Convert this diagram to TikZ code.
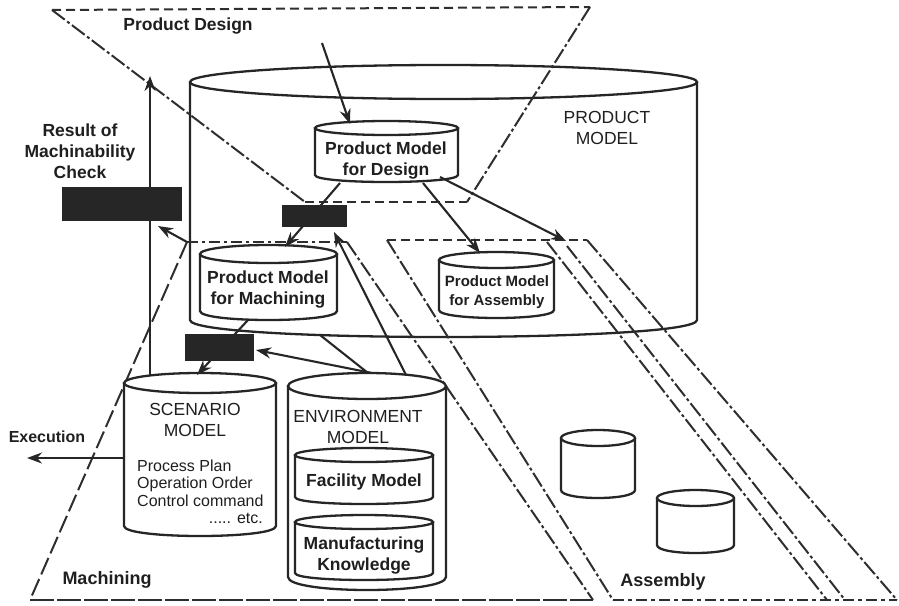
\documentclass[tikz,border=0pt]{standalone}
\usepackage{fontspec}
\setmainfont{Liberation Sans}
\usetikzlibrary{arrows.meta}
\newcommand{\cylshape}[6][]{%
  \filldraw[cyl,#1] (#2-#5,#3) -- (#2-#5,#4) .. controls (#2-#5,#4+1.333*#6) and (#2+#5,#4+1.333*#6) .. (#2+#5,#4) -- (#2+#5,#3);
  \filldraw[cyl,#1] (#2,#3) ellipse [x radius=#5, y radius=#6];
}
\begin{document}
\begin{tikzpicture}[x=1pt,y=-1pt,
  cyl/.style={line width=2.3pt, fill=white, draw=black!85},
  plane/.style={line width=2pt, draw=black!82},
  slant/.style={plane, dash pattern=on 16pt off 3pt on 3pt off 3pt},
  hdash/.style={plane, dash pattern=on 9pt off 5pt},
  hdashdot/.style={plane, dash pattern=on 11pt off 4pt on 3pt off 4pt},
  longdash/.style={plane, dash pattern=on 18pt off 5pt},
  conn/.style={line width=2.1pt, draw=black!85, -{Stealth[length=15pt,width=11pt]}},
  plain/.style={line width=2.1pt, draw=black!85},
  blackbox/.style={fill=black!85, inner sep=0pt},
  bl/.style={font=\fontsize{17.5}{21}\selectfont\bfseries, align=center, inner sep=0pt, text=black!88},
  rl/.style={font=\fontsize{17.5}{21}\selectfont, align=center, inner sep=0pt, text=black!88},
  pl/.style={font=\fontsize{16}{17.5}\selectfont, align=left, inner sep=0pt, text=black!88},
]
\useasboundingbox (0,0) rectangle (899,605);

% big PRODUCT MODEL cylinder (transparent)
\cylshape[fill=none]{443.5}{82}{320}{253.5}{17}

% ---- planes ----
% Product Design plane
\coordinate (pdTL) at (52,10);
\coordinate (pdTR) at (590,7);
\coordinate (pdBL) at (305,202);
\coordinate (pdBR) at (467,202);
\draw[hdash] (pdTL) -- (pdTR);
\draw[slant] (pdTL) -- (pdBL);
\draw[slant] (pdTR) -- (pdBR);
\draw[hdash] (pdBL) -- (pdBR);
% Machining plane
\coordinate (mTL) at (187,242);
\coordinate (mTR) at (347,242);
\coordinate (mBL) at (30,600);
\coordinate (mBR) at (593,600);
\draw[hdashdot] (mTL) -- (mTR);
\draw[longdash] (mTL) -- (mBL);
\draw[plane, dash pattern=on 24pt off 3pt] (mBL) -- (mBR);
\draw[slant] (mTR) -- (mBR);
% Assembly plane
\coordinate (aTL) at (387,240);
\coordinate (aTR) at (587,240);
\coordinate (aBL) at (613,600);
\coordinate (aBR) at (897,600);
\draw[hdash] (aTL) -- (aTR);
\draw[slant] (aTL) -- (aBL);
\draw[slant] (aTR) -- (aBR);
\draw[plane, dash pattern=on 11pt off 4pt on 4pt off 4pt] (aBL) -- (aBR);
\coordinate (a1T) at (547,242);
\coordinate (a1B) at (827,600);
\coordinate (a2T) at (567,246);
\coordinate (a2B) at (845,600);
\draw[slant] (a1T) -- (a1B);
\draw[slant] (a2T) -- (a2B);

% ---- small cylinders ----
\cylshape{386.5}{128}{175}{71.5}{7}
\cylshape{268.5}{254}{311}{68.5}{9}
\cylshape{496.5}{260}{310}{57.5}{8}
\cylshape{200}{383}{526}{76}{10}
\cylshape{367}{386}{577}{79}{13}
\cylshape{364}{455}{497}{69}{7}
\cylshape{364}{522}{573}{69}{7}
\cylshape{598}{438}{490}{37}{8}
\cylshape{695.5}{498}{545}{38.5}{8}

% ---- texts ----
\node[bl] (pdlabel) at (188,26) {Product Design};
\node[rl] (pmlabel) at (607,128) {PRODUCT\\MODEL};
\node[bl] (design) at (386,161) {Product Model\\for Design};
\node[bl] (result) at (80,151) {Result of\\Machinability\\Check};
\node[bl] (mach) at (268,290) {Product Model\\for Machining};
\node[bl, font=\fontsize{15}{19}\selectfont\bfseries] (asm) at (497,292) {Product Model\\for Assembly};
\node[rl] (scen) at (195,420) {SCENARIO\\MODEL};
\node[bl, font=\fontsize{16}{20}\selectfont\bfseries] (exec) at (47,437) {Execution};
\node[pl, anchor=west] (plans) at (137,483) {Process Plan\\Operation Order\\Control command};
\node[pl, anchor=east] (etc) at (263,518) {..... etc.};
\node[rl] (env) at (358,427) {ENVIRONMENT\\MODEL};
\node[bl] (fac) at (364,482) {Facility Model};
\node[bl] (manu) at (364,556) {Manufacturing\\Knowledge};
\node[bl, font=\fontsize{18}{22}\selectfont\bfseries] (machlabel) at (107,580) {Machining};
\node[bl, font=\fontsize{18}{22}\selectfont\bfseries] (asmlabel) at (663,582) {Assembly};

% ---- connectors ----
\coordinate (pdIn) at (322,43);
\coordinate (designTop) at (350,124);
\coordinate (designB1) at (340,183);
\coordinate (designB2) at (423,183);
\coordinate (designB3) at (440,177);
\coordinate (machTop) at (285,247);
\coordinate (asmTop) at (480,253);
\coordinate (asmCorner) at (566,241);
\coordinate (machBot) at (248,320);
\coordinate (scenTop) at (197,375);
\coordinate (scenTopL) at (150,376);
\coordinate (resTop) at (150,76);
\coordinate (envTop1) at (372,373);
\coordinate (envTop2) at (406,375);
\coordinate (envTop0) at (368,373);
\coordinate (pmBot) at (320,335);
\coordinate (scenLeft) at (124,458);
\coordinate (execEnd) at (27,458);

\draw[conn] (pdIn) -- (designTop);
\draw[conn] (designB1) -- (machTop);
\draw[conn] (designB2) -- (asmTop);
\draw[conn] (designB3) -- (asmCorner);
\draw[conn] (machBot) -- (scenTop);
\draw[conn] (envTop2) -- (334,232);
\draw[conn] (envTop1) -- (256,350);
\draw[plain] (pmBot) -- (envTop0);
\draw[conn] (mTL) -- (158,226);
\draw[conn] (scenTopL) -- (resTop);
\draw[conn] (scenLeft) -- (execEnd);

% ---- black boxes ----
\node[blackbox, minimum width=120pt, minimum height=34pt] (resbox) at (122,204) {};
\node[blackbox, minimum width=65pt, minimum height=22pt] (midbox) at (314.5,216) {};
\node[blackbox, minimum width=69pt, minimum height=27pt] (lowbox) at (219.5,347.5) {};
\end{tikzpicture}
\end{document}
